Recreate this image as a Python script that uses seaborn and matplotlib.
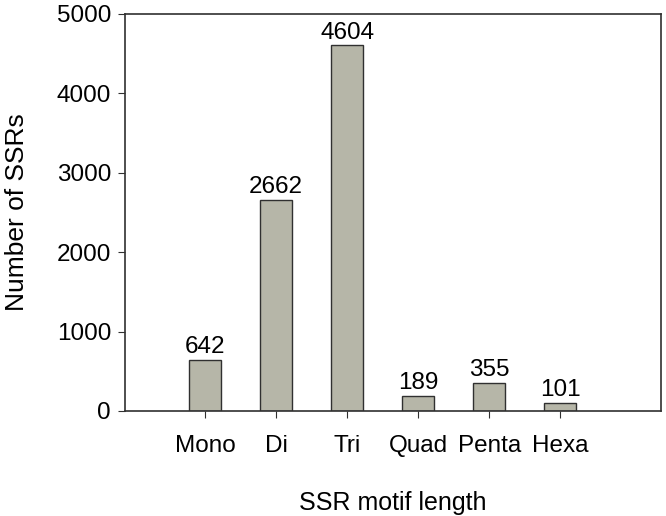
import pandas as pd
import matplotlib
matplotlib.use('Agg')
import matplotlib.pyplot as plt
import seaborn as sns

# data
motifs = ['Mono', 'Di', 'Tri', 'Quad', 'Penta', 'Hexa']
counts = [642, 2662, 4604, 189, 355, 101]

df = pd.DataFrame({'motif': motifs, 'count': counts})

sns.set_style('ticks')
plt.rcParams['font.family'] = ['Liberation Sans', 'DejaVu Sans']
plt.rcParams['text.color'] = 'black'
plt.rcParams['axes.labelcolor'] = 'black'

fig = plt.figure(figsize=(6.66, 5.16), dpi=100)
ax = fig.add_axes([0.1877, 0.2035, 0.8048, 0.7694])

sns.barplot(data=df, x='motif', y='count', color='#b6b6a8', width=0.45,
            edgecolor='#303030', linewidth=1.0, saturation=1, ax=ax)

# value labels above bars
for i, v in enumerate(counts):
    ax.text(i, v + 20, str(v), ha='center', va='bottom', fontsize=17.5,
            color='black')

ax.set_xlim(-1.13, 6.42)
ax.set_ylim(0, 5000)
ax.set_yticks([0, 1000, 2000, 3000, 4000, 5000])
ax.set_xlabel('SSR motif length', fontsize=18, labelpad=25, color='black')
ax.set_ylabel('Number of SSRs', fontsize=19, labelpad=20, color='black')
ax.tick_params(axis='both', labelsize=17.5, direction='out', length=5,
               color='#303030', labelcolor='black', top=False, right=False)
ax.tick_params(axis='x', pad=12)
ax.tick_params(axis='y', pad=5)
for s in ax.spines.values():
    s.set_color('#303030')
    s.set_linewidth(1.2)

plt.savefig('out.png', dpi=100)
